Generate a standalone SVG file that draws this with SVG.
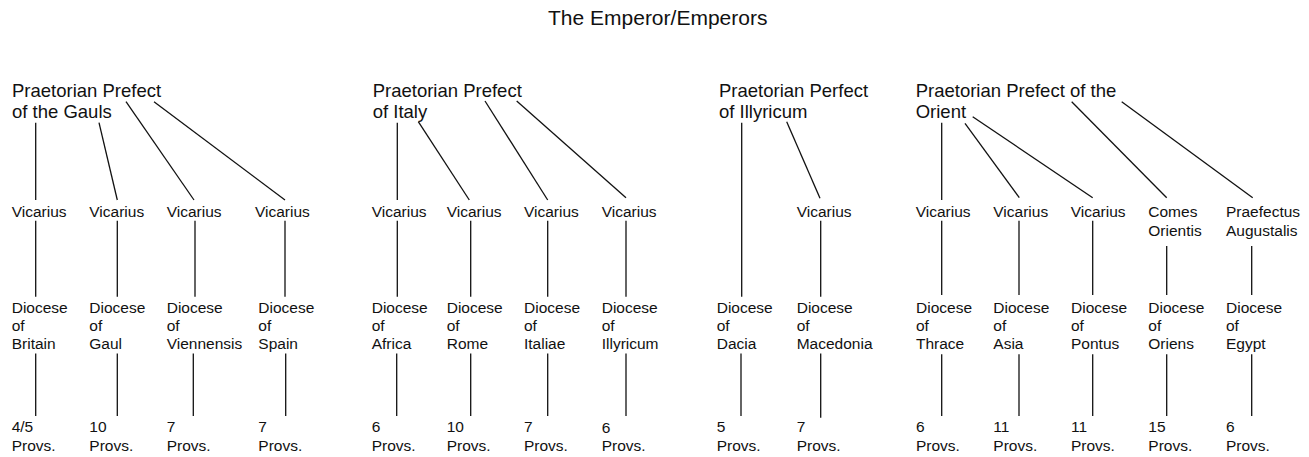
<svg xmlns="http://www.w3.org/2000/svg" width="1309" height="457" viewBox="0 0 1309 457">
<style>
text{font-family:"Liberation Sans",Arial,Helvetica,sans-serif;fill:#111}
.t{font-size:21px}
.p{font-size:18.5px}
.n{font-size:15.5px}
.c line{stroke:#111;stroke-width:1.3}
</style>
<rect width="1309" height="457" fill="#fff"/>
<g id="emperor"><text class="t" x="548" y="25">The Emperor/Emperors</text></g>

<g id="pp-gauls"><text class="p" x="12" y="96.5">Praetorian Prefect</text><text class="p" x="12" y="117.5">of the Gauls</text></g>
<g id="pp-italy"><text class="p" x="372.7" y="96.5">Praetorian Prefect</text><text class="p" x="372.7" y="117.5">of Italy</text></g>
<g id="pp-illyricum"><text class="p" x="719" y="96.5">Praetorian Perfect</text><text class="p" x="719" y="117.5">of Illyricum</text></g>
<g id="pp-orient"><text class="p" x="915.7" y="96.5">Praetorian Prefect of the</text><text class="p" x="915.7" y="117.5">Orient</text></g>

<g id="vic-britain"><text class="n" x="11.7" y="216.7">Vicarius</text></g>
<g id="vic-gaul"><text class="n" x="89.3" y="216.7">Vicarius</text></g>
<g id="vic-viennensis"><text class="n" x="166.7" y="216.7">Vicarius</text></g>
<g id="vic-spain"><text class="n" x="255" y="216.7">Vicarius</text></g>
<g id="vic-africa"><text class="n" x="371.7" y="216.7">Vicarius</text></g>
<g id="vic-rome"><text class="n" x="446.7" y="216.7">Vicarius</text></g>
<g id="vic-italiae"><text class="n" x="524" y="216.7">Vicarius</text></g>
<g id="vic-illyricum"><text class="n" x="601.7" y="216.7">Vicarius</text></g>
<g id="vic-macedonia"><text class="n" x="796.7" y="216.7">Vicarius</text></g>
<g id="vic-thrace"><text class="n" x="915.7" y="216.7">Vicarius</text></g>
<g id="vic-asia"><text class="n" x="993.3" y="216.7">Vicarius</text></g>
<g id="vic-pontus"><text class="n" x="1070.7" y="216.7">Vicarius</text></g>
<g id="comes-orientis"><text class="n" x="1148.3" y="216.7">Comes</text><text class="n" x="1148.3" y="235.5">Orientis</text></g>
<g id="praefectus-augustalis"><text class="n" x="1226" y="216.7">Praefectus</text><text class="n" x="1226" y="235.5">Augustalis</text></g>

<g id="dio-britain"><text class="n" x="11.7" y="312.7">Diocese</text><text class="n" x="11.7" y="330.7">of</text><text class="n" x="11.7" y="349">Britain</text></g>
<g id="dio-gaul"><text class="n" x="89.3" y="312.7">Diocese</text><text class="n" x="89.3" y="330.7">of</text><text class="n" x="89.3" y="349">Gaul</text></g>
<g id="dio-viennensis"><text class="n" x="166.7" y="312.7">Diocese</text><text class="n" x="166.7" y="330.7">of</text><text class="n" x="166.7" y="349">Viennensis</text></g>
<g id="dio-spain"><text class="n" x="258.3" y="312.7">Diocese</text><text class="n" x="258.3" y="330.7">of</text><text class="n" x="258.3" y="349">Spain</text></g>
<g id="dio-africa"><text class="n" x="371.7" y="312.7">Diocese</text><text class="n" x="371.7" y="330.7">of</text><text class="n" x="371.7" y="349">Africa</text></g>
<g id="dio-rome"><text class="n" x="446.7" y="312.7">Diocese</text><text class="n" x="446.7" y="330.7">of</text><text class="n" x="446.7" y="349">Rome</text></g>
<g id="dio-italiae"><text class="n" x="524" y="312.7">Diocese</text><text class="n" x="524" y="330.7">of</text><text class="n" x="524" y="349">Italiae</text></g>
<g id="dio-illyricum"><text class="n" x="601.7" y="312.7">Diocese</text><text class="n" x="601.7" y="330.7">of</text><text class="n" x="601.7" y="349">Illyricum</text></g>
<g id="dio-dacia"><text class="n" x="716.7" y="312.7">Diocese</text><text class="n" x="716.7" y="330.7">of</text><text class="n" x="716.7" y="349">Dacia</text></g>
<g id="dio-macedonia"><text class="n" x="796.7" y="312.7">Diocese</text><text class="n" x="796.7" y="330.7">of</text><text class="n" x="796.7" y="349">Macedonia</text></g>
<g id="dio-thrace"><text class="n" x="916" y="312.7">Diocese</text><text class="n" x="916" y="330.7">of</text><text class="n" x="916" y="349">Thrace</text></g>
<g id="dio-asia"><text class="n" x="993.3" y="312.7">Diocese</text><text class="n" x="993.3" y="330.7">of</text><text class="n" x="993.3" y="349">Asia</text></g>
<g id="dio-pontus"><text class="n" x="1071" y="312.7">Diocese</text><text class="n" x="1071" y="330.7">of</text><text class="n" x="1071" y="349">Pontus</text></g>
<g id="dio-oriens"><text class="n" x="1148.3" y="312.7">Diocese</text><text class="n" x="1148.3" y="330.7">of</text><text class="n" x="1148.3" y="349">Oriens</text></g>
<g id="dio-egypt"><text class="n" x="1226" y="312.7">Diocese</text><text class="n" x="1226" y="330.7">of</text><text class="n" x="1226" y="349">Egypt</text></g>

<g id="prov-britain"><text class="n" x="11.7" y="432">4/5</text><text class="n" x="11.7" y="450.5">Provs.</text></g>
<g id="prov-gaul"><text class="n" x="89.3" y="432">10</text><text class="n" x="89.3" y="450.5">Provs.</text></g>
<g id="prov-viennensis"><text class="n" x="166.7" y="432">7</text><text class="n" x="166.7" y="450.5">Provs.</text></g>
<g id="prov-spain"><text class="n" x="258.3" y="432">7</text><text class="n" x="258.3" y="450.5">Provs.</text></g>
<g id="prov-africa"><text class="n" x="371.7" y="432">6</text><text class="n" x="371.7" y="450.5">Provs.</text></g>
<g id="prov-rome"><text class="n" x="446.7" y="432">10</text><text class="n" x="446.7" y="450.5">Provs.</text></g>
<g id="prov-italiae"><text class="n" x="524" y="432">7</text><text class="n" x="524" y="450.5">Provs.</text></g>
<g id="prov-illyricum"><text class="n" x="601.7" y="433">6</text><text class="n" x="601.7" y="450.5">Provs.</text></g>
<g id="prov-dacia"><text class="n" x="716.7" y="432">5</text><text class="n" x="716.7" y="450.5">Provs.</text></g>
<g id="prov-macedonia"><text class="n" x="796.7" y="432">7</text><text class="n" x="796.7" y="450.5">Provs.</text></g>
<g id="prov-thrace"><text class="n" x="916" y="432">6</text><text class="n" x="916" y="450.5">Provs.</text></g>
<g id="prov-asia"><text class="n" x="993.3" y="432">11</text><text class="n" x="993.3" y="450.5">Provs.</text></g>
<g id="prov-pontus"><text class="n" x="1071" y="432">11</text><text class="n" x="1071" y="450.5">Provs.</text></g>
<g id="prov-oriens"><text class="n" x="1148.3" y="432">15</text><text class="n" x="1148.3" y="450.5">Provs.</text></g>
<g id="prov-egypt"><text class="n" x="1226" y="432">6</text><text class="n" x="1226" y="450.5">Provs.</text></g>

<g id="connectors" class="c">
<line x1="35.7" y1="122.7" x2="35.7" y2="200"/>
<line x1="99" y1="122.7" x2="117.3" y2="200"/>
<line x1="126" y1="101.7" x2="194" y2="200"/>
<line x1="154" y1="101.7" x2="285" y2="200"/>
<line x1="397.3" y1="122.7" x2="397.3" y2="200"/>
<line x1="418.3" y1="121.7" x2="469.3" y2="200"/>
<line x1="485" y1="101" x2="547.7" y2="200"/>
<line x1="516.7" y1="101" x2="626" y2="197.7"/>
<line x1="741.7" y1="122.7" x2="741.7" y2="296.7"/>
<line x1="786.7" y1="121.7" x2="820" y2="198.3"/>
<line x1="941.7" y1="122.7" x2="941.7" y2="200"/>
<line x1="965" y1="123.3" x2="1019.3" y2="197.7"/>
<line x1="972.7" y1="116.7" x2="1092.7" y2="197.7"/>
<line x1="1071.7" y1="101.7" x2="1166.7" y2="197.7"/>
<line x1="1121.7" y1="101.7" x2="1252.7" y2="197.7"/>

<line x1="35.7" y1="220.7" x2="35.7" y2="296.7"/>
<line x1="117.3" y1="220.7" x2="117.3" y2="296.7"/>
<line x1="195" y1="220.7" x2="195" y2="296.7"/>
<line x1="285" y1="220.7" x2="285" y2="296.7"/>
<line x1="397.3" y1="220.7" x2="397.3" y2="296.7"/>
<line x1="470.7" y1="220.7" x2="470.7" y2="296.7"/>
<line x1="547.7" y1="220.7" x2="547.7" y2="296.7"/>
<line x1="626" y1="220.7" x2="626" y2="296.7"/>
<line x1="820.7" y1="220.7" x2="820.7" y2="296.7"/>
<line x1="941.7" y1="220.7" x2="941.7" y2="295"/>
<line x1="1019" y1="220.7" x2="1019" y2="295"/>
<line x1="1092.7" y1="220.7" x2="1092.7" y2="295"/>
<line x1="1166.7" y1="246" x2="1166.7" y2="295"/>
<line x1="1251.7" y1="246" x2="1251.7" y2="295"/>

<line x1="35.7" y1="353.5" x2="35.7" y2="416"/>
<line x1="117.3" y1="353.5" x2="117.3" y2="416"/>
<line x1="193.3" y1="353.5" x2="193.3" y2="416"/>
<line x1="285.7" y1="353.5" x2="285.7" y2="416"/>
<line x1="396.7" y1="353.5" x2="396.7" y2="416"/>
<line x1="470.7" y1="353.5" x2="470.7" y2="416"/>
<line x1="547.7" y1="353.5" x2="547.7" y2="416"/>
<line x1="626" y1="353.5" x2="626" y2="416"/>
<line x1="741" y1="353.5" x2="741" y2="416"/>
<line x1="820.7" y1="353.5" x2="820.7" y2="417.7"/>
<line x1="941.7" y1="354.3" x2="941.7" y2="416"/>
<line x1="1019" y1="354.3" x2="1019" y2="416"/>
<line x1="1092.7" y1="354.3" x2="1092.7" y2="416"/>
<line x1="1166.7" y1="354.3" x2="1166.7" y2="416"/>
<line x1="1251.7" y1="354.3" x2="1251.7" y2="416"/>
</g>
</svg>
